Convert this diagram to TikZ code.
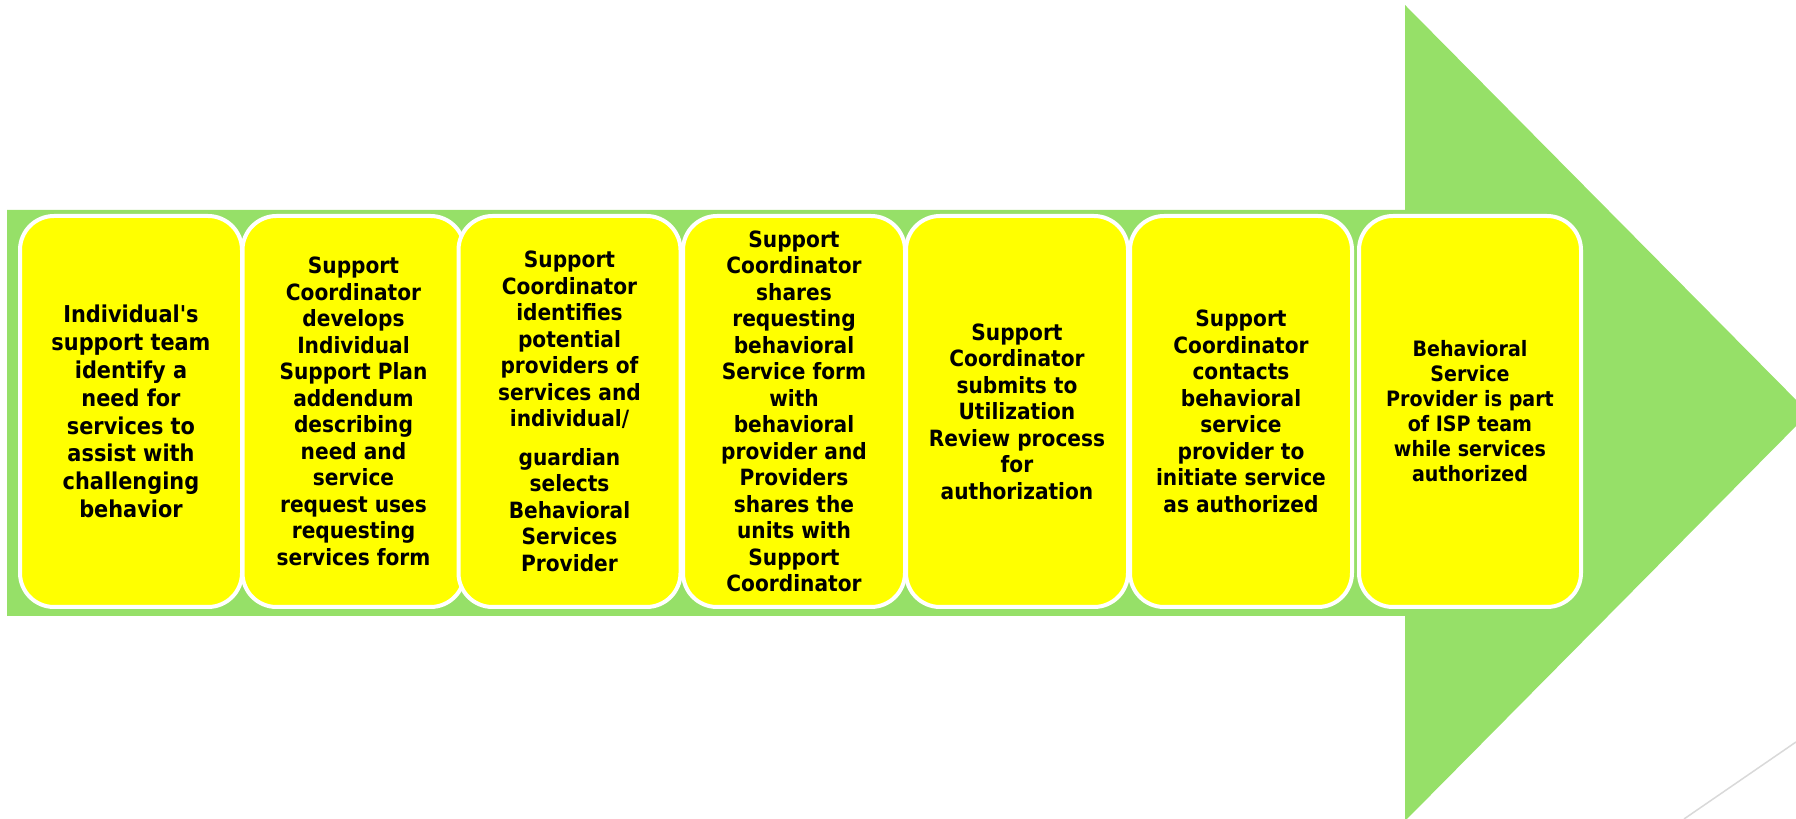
\documentclass[tikz,border=0pt]{standalone}
\usepackage{fontspec}
\setmainfont{DejaVu Sans Condensed}
\definecolor{arrowgreen}{RGB}{150,224,104}
\definecolor{stepyellow}{RGB}{255,255,0}
\definecolor{linegray}{RGB}{217,217,217}

\begin{document}
\begin{tikzpicture}[x=0.5pt,y=0.5pt,
    stepbox/.style={rectangle, rounded corners=17pt, fill=stepyellow, draw=white,
      line width=2pt, minimum width=111pt, minimum height=195.5pt, inner sep=0pt,
      align=center, font=\bfseries\fontsize{11.2}{13.25}\selectfont}]
\clip (0,0) rectangle (1796,819);

% Big arrow
\fill[arrowgreen] (7,203) -- (1405,203) -- (1405,-2) -- (1809,406) -- (1405,814) -- (1405,609) -- (7,609) -- cycle;

% Corner line
\draw[linegray, line width=0.75pt] (1684,0) -- (1796,77);

% Steps
\node[stepbox, font=\bfseries\fontsize{11.6}{13.9}\selectfont] (s1) at (131,407.5) {Individual\textquotesingle s\\support team\\identify a\\need for\\services to\\assist with\\challenging\\behavior};
\node[stepbox] (s2) at (353.5,407.5) {Support\\Coordinator\\develops\\Individual\\Support Plan\\addendum\\describing\\need and\\service\\request uses\\requesting\\services form};
\node[stepbox] (s3) at (569.5,407.5) {Support\\Coordinator\\identifies\\potential\\providers of\\services and\\individual/\\[6pt]guardian\\selects\\Behavioral\\Services\\Provider};
\node[stepbox] (s4) at (794,407.5) {Support\\Coordinator\\shares\\requesting\\behavioral\\Service form\\with\\behavioral\\provider and\\Providers\\shares the\\units with\\Support\\Coordinator};
\node[stepbox] (s5) at (1017,407.5) {Support\\Coordinator\\submits to\\Utilization\\Review process\\for\\authorization};
\node[stepbox] (s6) at (1241,407.5) {Support\\Coordinator\\contacts\\behavioral\\service\\provider to\\initiate service\\as authorized};
\node[stepbox, font=\bfseries\fontsize{10.6}{12.5}\selectfont] (s7) at (1470,407.5) {Behavioral\\Service\\Provider is part\\of ISP team\\while services\\authorized};

\end{tikzpicture}
\end{document}
